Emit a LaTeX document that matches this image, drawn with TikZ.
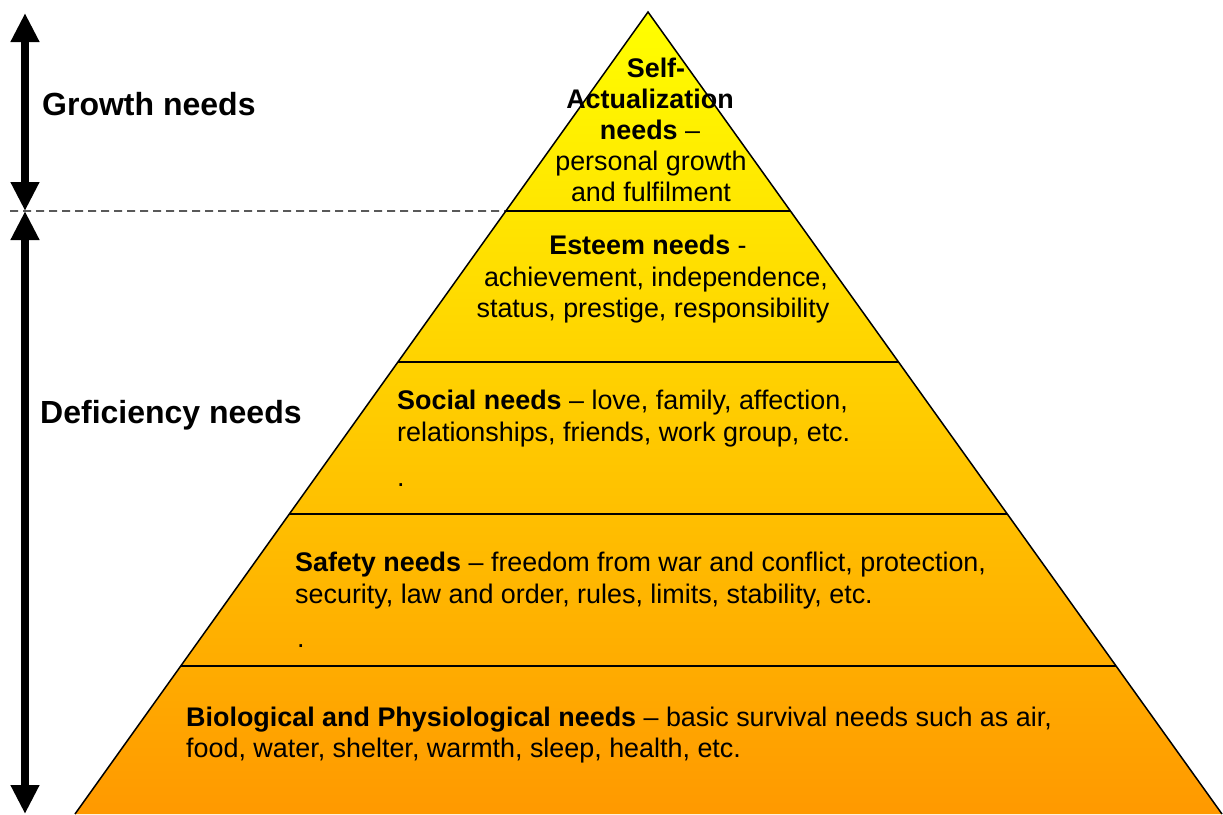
\documentclass[tikz,border=0pt]{standalone}
\usepackage{fontspec}
\setmainfont{Liberation Sans}
\usetikzlibrary{arrows.meta,calc}
\definecolor{topyel}{HTML}{FFFF00}
\definecolor{botora}{HTML}{FF9900}
\tikzset{
  body/.style={inner sep=0pt,font=\fontsize{26.9}{31}\selectfont},
  bodyw/.style={body,anchor=base west},
  bodyc/.style={body,anchor=base},
  head/.style={inner sep=0pt,anchor=base west,font=\fontsize{32}{38}\selectfont\bfseries},
  level/.style={line width=1.5pt,black},
  twoarrow/.style={line width=8pt,{Triangle[width=27pt,length=29pt]}-{Triangle[width=27pt,length=29pt]}},
}
\begin{document}
\begin{tikzpicture}[x=1pt,y=-1pt]
\useasboundingbox (0,0) rectangle (1223,814);
\coordinate (apex) at (648,12);
\coordinate (bl) at (75,814);
\coordinate (br) at (1222,814);
% pyramid
\shade[top color=topyel,bottom color=botora] (apex) -- (bl) -- (br) -- cycle;
\draw[line width=1.5pt] (bl) -- (apex) -- (br);
% levels
\coordinate (l1) at ($(apex)!0.2481!(bl)$); \coordinate (r1) at ($(apex)!0.2481!(br)$);
\coordinate (l2) at ($(apex)!0.4364!(bl)$); \coordinate (r2) at ($(apex)!0.4364!(br)$);
\coordinate (l3) at ($(apex)!0.6259!(bl)$); \coordinate (r3) at ($(apex)!0.6259!(br)$);
\coordinate (l4) at ($(apex)!0.8155!(bl)$); \coordinate (r4) at ($(apex)!0.8155!(br)$);
\draw[level] (l1) -- (r1);
\draw[level] (l2) -- (r2);
\draw[level] (l3) -- (r3);
\draw[level] (l4) -- (r4);
% dashed separator
\coordinate (dstart) at (10,211);
\draw[line width=1.2pt,dash pattern=on 8pt off 5pt] (dstart) -- (l1);
% arrows
\coordinate (gtop) at (25,13);
\coordinate (gbot) at (25,211);
\coordinate (dbot) at (25,814);
\draw[twoarrow] (gtop) -- (gbot);
\draw[twoarrow] (gbot) -- (dbot);
% side labels
\node[head] (growth) at (42,115) {Growth needs};
\node[head] (defic) at (40,423) {Deficiency needs};
% self-actualization
\node[bodyc] (sa1) at (656,77) {\bfseries Self-};
\node[bodyc] (sa2) at (650,108) {\bfseries Actualization};
\node[bodyc] (sa3) at (650,139) {\textbf{needs} –};
\node[bodyc] (sa4) at (651,170) {personal growth};
\node[bodyc] (sa5) at (651,201) {and fulfilment};
% esteem
\node[bodyc] (es1) at (648,254) {\textbf{Esteem needs} -};
\node[bodyc] (es2) at (656,286) {achievement, independence,};
\node[bodyc] (es3) at (653,317) {status, prestige, responsibility};
% social
\node[bodyw] (so1) at (397,409) {\textbf{Social needs} – love, family, affection,};
\node[bodyw] (so2) at (397,441) {relationships, friends, work group, etc.};
\node[bodyw] (so3) at (397,486) {.};
% safety
\node[bodyw] (sf1) at (295,571) {\textbf{Safety needs} – freedom from war and conflict, protection,};
\node[bodyw] (sf2) at (295,603) {security, law and order, rules, limits, stability, etc.};
\node[bodyw] (sf3) at (297,647) {.};
% biological
\node[bodyw] (bi1) at (186,726) {\textbf{Biological and Physiological needs} – basic survival needs such as air,};
\node[bodyw] (bi2) at (186,757) {food, water, shelter, warmth, sleep, health, etc.};
\end{tikzpicture}
\end{document}
